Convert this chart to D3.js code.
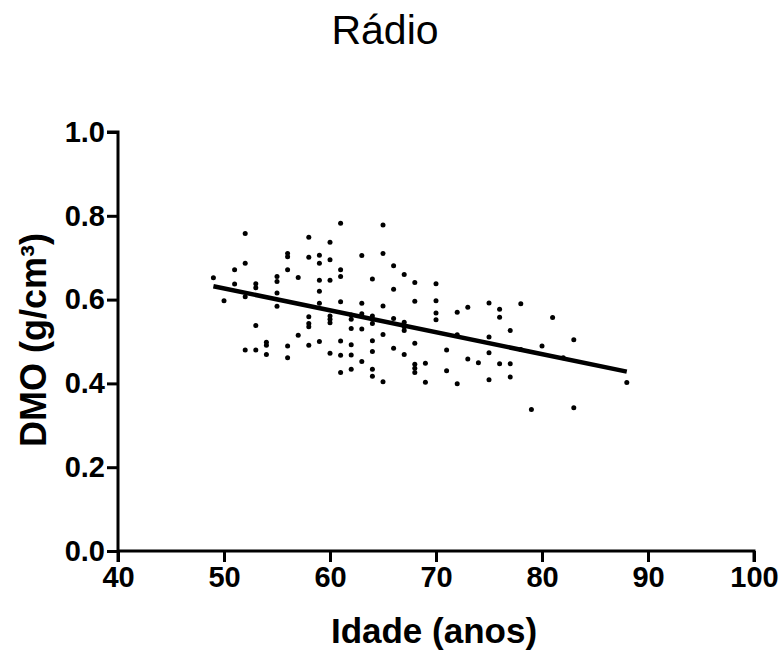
<!DOCTYPE html>
<html>
<head>
<meta charset="utf-8">
<script src="https://cdn.jsdelivr.net/npm/d3@7"></script>
<style>
    body { margin: 0; background: white; }
    text { font-family: "Liberation Sans", Arial, sans-serif; }
</style>
</head>
<body>
<div id="chart"></div>
<script>
// idade (anos) e DMO (g/cm3)
const ages = [49, 50, 51, 52, 53, 54, 55, 56, 57, 58, 59, 60, 61, 62, 63, 64, 65, 66, 67, 68,
    69, 70, 71, 72, 73, 74, 75, 76, 77, 78, 79, 80, 81, 82, 83, 88]

const dmoByAge = [
    [0.652],
    [0.597],
    [0.671, 0.637],
    [0.758, 0.687, 0.607, 0.480],
    [0.638, 0.628, 0.538, 0.480],
    [0.498, 0.491, 0.469],
    [0.655, 0.643, 0.616, 0.584],
    [0.710, 0.702, 0.671, 0.489, 0.461],
    [0.653, 0.515],
    [0.749, 0.701, 0.559, 0.543, 0.535, 0.491],
    [0.706, 0.687, 0.646, 0.620, 0.591, 0.500],
    [0.737, 0.695, 0.646, 0.561, 0.553, 0.545, 0.472],
    [0.782, 0.671, 0.655, 0.595, 0.501, 0.467, 0.426],
    [0.563, 0.553, 0.531, 0.492, 0.468, 0.434],
    [0.705, 0.591, 0.566, 0.530, 0.452],
    [0.649, 0.561, 0.553, 0.543, 0.502, 0.476, 0.434, 0.417],
    [0.778, 0.710, 0.585, 0.517, 0.404],
    [0.681, 0.625, 0.555, 0.484],
    [0.660, 0.546, 0.535, 0.526, 0.469],
    [0.641, 0.596, 0.496, 0.446, 0.436, 0.426],
    [0.448, 0.403],
    [0.638, 0.597, 0.568, 0.552],
    [0.480, 0.430],
    [0.570, 0.516, 0.399],
    [0.582, 0.458],
    [0.449],
    [0.592, 0.511, 0.473, 0.409],
    [0.577, 0.558, 0.447],
    [0.526, 0.447, 0.415],
    [0.590, 0.481],
    [0.338],
    [0.489],
    [0.557],
    [0.461],
    [0.504, 0.342],
    [0.402]
]

// reta de regressao (extremos)
const fitLine = [
    { age: 49, dmo: 0.632 },
    { age: 88, dmo: 0.428 }
]

const xTicks = [40, 50, 60, 70, 80, 90, 100]
const yTicks = [0.0, 0.2, 0.4, 0.6, 0.8, 1.0]

const points = []
ages.forEach((a, i) => {
    dmoByAge[i].forEach(v => points.push({ age: a, dmo: v }))
})

const width = 779
const height = 651
const margin = { top: 132, right: 25, bottom: 100, left: 118 }

const svg = d3.select("#chart")
    .append("svg")
    .attr("width", width)
    .attr("height", height)

const x = d3.scaleLinear()
    .domain([40, 100])
    .range([margin.left, width - margin.right])

const y = d3.scaleLinear()
    .domain([0, 1])
    .range([height - margin.bottom, margin.top])

// eixo y
const yAxis = svg.append("g")
    .attr("transform", `translate(${margin.left}, 0)`)
    .call(d3.axisLeft(y).tickValues(yTicks).tickFormat(d3.format(".1f")).tickSize(11).tickPadding(2))

// eixo x
const xAxis = svg.append("g")
    .attr("transform", `translate(0, ${height - margin.bottom})`)
    .call(d3.axisBottom(x).tickValues(xTicks).tickSize(11).tickPadding(4))

yAxis.select(".domain").attr("d", `M-11,${y(1)}H0V${y(0) + 11}`)
xAxis.select(".domain").attr("d", `M${x(40)},0H${x(100)}V11`)

svg.selectAll(".domain, .tick line")
    .attr("stroke", "black")
    .attr("stroke-width", 3)

svg.selectAll(".tick text")
    .attr("fill", "black")
    .style("font-size", "29px")
    .style("font-weight", "bold")
    .style("font-family", "'Liberation Sans', Arial, sans-serif")

// pontos
svg.append("g")
    .selectAll("circle")
    .data(points)
    .join("circle")
    .attr("cx", d => x(d.age))
    .attr("cy", d => y(d.dmo))
    .attr("r", 2.5)
    .attr("fill", "black")

// reta
svg.append("path")
    .datum(fitLine)
    .attr("fill", "none")
    .attr("stroke", "black")
    .attr("stroke-width", 4.5)
    .attr("d", d3.line().x(d => x(d.age)).y(d => y(d.dmo)))

// titulos
svg.append("text")
    .text("Rádio")
    .attr("x", 385)
    .attr("y", 44)
    .attr("text-anchor", "middle")
    .style("font-size", "41px")

svg.append("text")
    .text("Idade (anos)")
    .attr("x", 434)
    .attr("y", 643)
    .attr("text-anchor", "middle")
    .style("font-size", "35px")
    .style("font-weight", "bold")

svg.append("text")
    .text("DMO (g/cm³)")
    .attr("transform", "translate(46, 340) rotate(-90)")
    .attr("text-anchor", "middle")
    .style("font-size", "36px")
    .style("font-weight", "bold")
</script>
</body>
</html>
